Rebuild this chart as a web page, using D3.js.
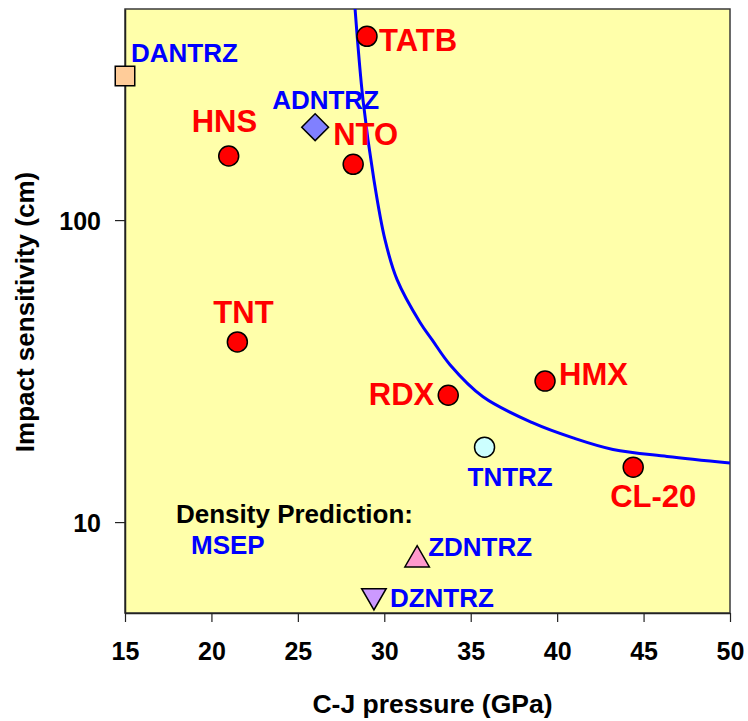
<!DOCTYPE html>
<html>
<head>
<meta charset="utf-8">
<script src="https://cdn.jsdelivr.net/npm/d3@7"></script>
<style>
  body { margin: 0; background: #fff; }
  svg { display: block; font-family: "Liberation Sans", Arial, sans-serif; font-weight: bold; }
</style>
</head>
<body>
<svg id="chart" width="748" height="721"></svg>
<script>
// ---- data ----
const names   = ["DANTRZ", "HNS", "ADNTRZ", "NTO", "TATB", "TNT", "RDX", "HMX", "TNTRZ", "CL-20", "ZDNTRZ", "DZNTRZ"];
const cjP     = [15.0, 21.0, 26.0, 28.2, 29.0, 21.5, 33.7, 39.3, 35.8, 44.4, 31.9, 29.4];
const impact  = [300, 163, 203, 153, 406, 39.5, 26.3, 29.3, 17.7, 15.2, 7.5, 5.7];
const kinds   = ["square", "circle", "diamond", "circle", "circle", "circle", "circle", "circle", "circleLight", "circle", "triUp", "triDown"];

// fitted trend curve
const curveP  = [28.31, 28.77, 29.4, 30.04, 30.74, 32.07, 32.76, 33.8, 35.71, 38.6, 40.92, 43.23, 46.36, 50];
const curveI  = [500, 249.5, 136, 86.1, 63.5, 45.8, 40.2, 33.2, 26.0, 21.3, 19.0, 17.4, 16.5, 15.7];

const xTicks = [15, 20, 25, 30, 35, 40, 45, 50];
const yTicks = [10, 100];

// ---- layout ----
const W = 748, H = 721;
const plot = { left: 125, right: 730, top: 9, bottom: 613 };

// label placement relative to marker (px)
const labelPos = {
  "DANTRZ": { dx: 6, dy: -14, anchor: "start" },
  "HNS":    { dx: -37, dy: -24, anchor: "start" },
  "ADNTRZ": { dx: -43, dy: -18, anchor: "start" },
  "NTO":    { dx: -20, dy: -19, anchor: "start" },
  "TATB":   { dx: 12, dy: 15, anchor: "start" },
  "TNT":    { dx: -24, dy: -19, anchor: "start" },
  "RDX":    { dx: -14, dy: 10, anchor: "end" },
  "HMX":    { dx: 14, dy: 4, anchor: "start" },
  "TNTRZ":  { dx: -17, dy: 39, anchor: "start" },
  "CL-20":  { dx: -23, dy: 40, anchor: "start" },
  "ZDNTRZ": { dx: 11, dy: -4, anchor: "start" },
  "DZNTRZ": { dx: 16, dy: 11, anchor: "start" }
};

const svg = d3.select("#chart");

const x = d3.scaleLinear().domain([15, 50]).range([plot.left, plot.right]);
const y = d3.scaleLog().domain([5, 500]).range([plot.bottom, plot.top]);

// plot background
svg.append("rect")
  .attr("x", plot.left).attr("y", plot.top)
  .attr("width", plot.right - plot.left)
  .attr("height", plot.bottom - plot.top)
  .attr("fill", "#ffffaa")
  .attr("stroke", "#3a3a3a")
  .attr("stroke-width", 1.5);

svg.append("clipPath").attr("id", "clip")
  .append("rect")
  .attr("x", plot.left).attr("y", plot.top)
  .attr("width", plot.right - plot.left)
  .attr("height", plot.bottom - plot.top);

// X axis
const xAxis = svg.append("g")
  .attr("transform", `translate(0,${plot.bottom})`)
  .call(d3.axisBottom(x).tickValues(xTicks).tickSize(9).tickSizeOuter(0).tickFormat(d3.format("d")));
xAxis.select(".domain").attr("stroke", "#222").attr("stroke-width", 1.5);
xAxis.selectAll(".tick line").attr("stroke", "#222").attr("stroke-width", 1.2);
xAxis.selectAll(".tick text")
  .attr("y", 47).attr("dy", 0)
  .style("font-size", "25px").style("font-weight", "bold")
  .attr("fill", "#000");

// Y axis
const yAxis = svg.append("g")
  .attr("transform", `translate(${plot.left},0)`)
  .call(d3.axisLeft(y).tickValues(yTicks).tickSize(10).tickSizeOuter(0).tickPadding(14).tickFormat(d3.format("d")));
yAxis.select(".domain").attr("stroke", "#222").attr("stroke-width", 1.5);
yAxis.selectAll(".tick line").attr("stroke", "#222").attr("stroke-width", 1.2);
yAxis.selectAll(".tick text")
  .attr("dy", "0.36em")
  .style("font-size", "25px").style("font-weight", "bold")
  .attr("fill", "#000");

// axis titles
svg.append("text")
  .attr("x", (plot.left + plot.right) / 2 + 5)
  .attr("y", 713)
  .attr("text-anchor", "middle")
  .style("font-size", "26.5px")
  .text("C-J pressure (GPa)");

svg.append("text")
  .attr("transform", `translate(34,${312}) rotate(-90)`)
  .attr("text-anchor", "middle")
  .style("font-size", "26px")
  .text("Impact sensitivity (cm)");

// trend curve
const curvePts = curveP.map((p, i) => ({ p, v: curveI[i] }));
svg.append("path")
  .datum(curvePts)
  .attr("clip-path", "url(#clip)")
  .attr("fill", "none")
  .attr("stroke", "#0000ff")
  .attr("stroke-width", 3)
  .attr("d", d3.line().x(d => x(d.p)).y(d => y(d.v)).curve(d3.curveCatmullRom.alpha(0.5)));

// markers
const pts = names.map((n, i) => ({ name: n, p: cjP[i], v: impact[i], kind: kinds[i] }));

const markerStyle = {
  circle:      { sym: d3.symbolCircle, size: 314, fill: "#ff0000", rot: 0 },
  circleLight: { sym: d3.symbolCircle, size: 314, fill: "#ccffff", rot: 0 },
  square:      { sym: d3.symbolSquare, size: 380, fill: "#ffcc99", rot: 0 },
  diamond:     { sym: d3.symbolSquare, size: 360, fill: "#8080ff", rot: 45 },
  triUp:       { sym: d3.symbolTriangle, size: 260, fill: "#ff99cc", rot: 0 },
  triDown:     { sym: d3.symbolTriangle, size: 260, fill: "#cc99ff", rot: 180 }
};

svg.append("g").selectAll("path")
  .data(pts)
  .join("path")
  .attr("transform", d => `translate(${x(d.p)},${y(d.v)}) rotate(${markerStyle[d.kind].rot})`)
  .attr("d", d => d3.symbol().type(markerStyle[d.kind].sym).size(markerStyle[d.kind].size)())
  .attr("fill", d => markerStyle[d.kind].fill)
  .attr("stroke", "#000")
  .attr("stroke-width", 1.5);

// labels: red for known explosives, blue for predicted compounds
const blueSet = new Set(["DANTRZ", "ADNTRZ", "TNTRZ", "ZDNTRZ", "DZNTRZ"]);
svg.append("g").selectAll("text")
  .data(pts)
  .join("text")
  .attr("x", d => x(d.p) + labelPos[d.name].dx)
  .attr("y", d => y(d.v) + labelPos[d.name].dy)
  .attr("text-anchor", d => labelPos[d.name].anchor)
  .attr("fill", d => blueSet.has(d.name) ? "#0000ff" : "#ff0000")
  .style("font-size", d => blueSet.has(d.name) ? "26px" : "31px")
  .text(d => d.name);

// note
svg.append("text")
  .attr("x", 176).attr("y", 523)
  .style("font-size", "26px")
  .attr("fill", "#000")
  .text("Density Prediction:");
svg.append("text")
  .attr("x", 191).attr("y", 554)
  .style("font-size", "26px")
  .attr("fill", "#0000ff")
  .text("MSEP");
</script>
</body>
</html>
